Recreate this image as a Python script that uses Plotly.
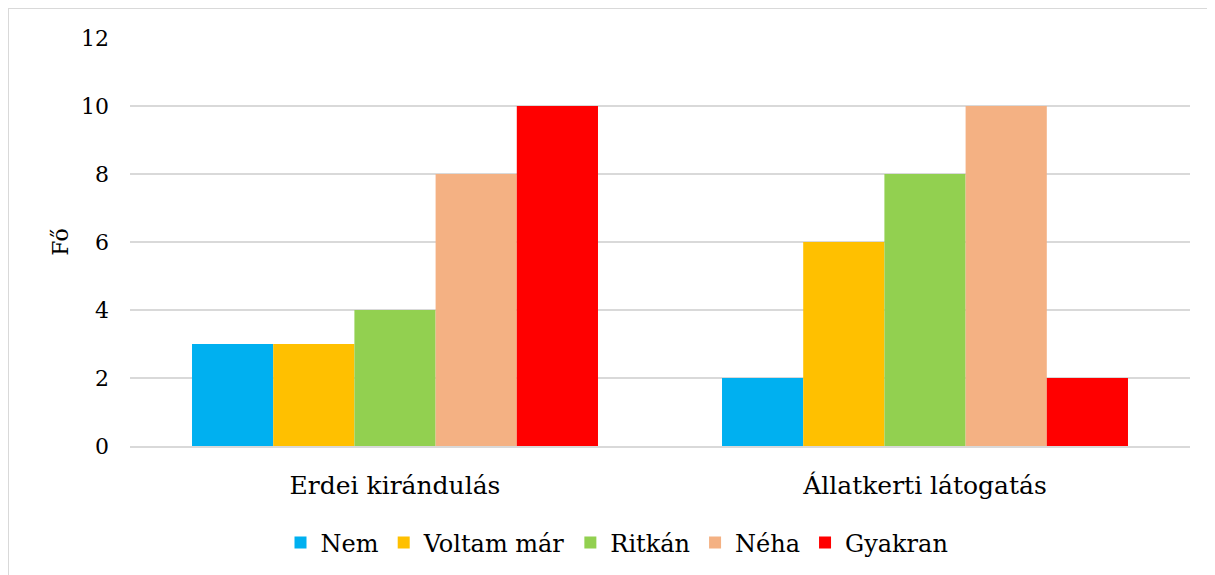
import plotly.graph_objects as go

categories = ["Erdei kirándulás", "Állatkerti látogatás"]
series_names = ["Nem", "Voltam már", "Ritkán", "Néha", "Gyakran"]
values_nem = [3, 2]
values_voltam = [3, 6]
values_ritkan = [4, 8]
values_neha = [8, 10]
values_gyakran = [10, 2]
colors = ["#00B0F0", "#FFC000", "#92D050", "#F4B183", "#FF0000"]
y_ticks = [0, 2, 4, 6, 8, 10, 12]

all_values = [values_nem, values_voltam, values_ritkan, values_neha, values_gyakran]

FONT = "DejaVu Serif"
OFF = 8  # page body margin

fig = go.Figure()
for name, vals, col in zip(series_names, all_values, colors):
    fig.add_trace(go.Bar(x=categories, y=vals, name=name, marker=dict(color=col, line=dict(width=0))))

W, H = 1215 - OFF, 575 - OFF
L, T = 130 - OFF, 38 - OFF
R = W - (1190 - OFF)
B = H - (446 - OFF)
pw, ph = W - L - R, H - T - B

def px_x(p):
    return (p - OFF - L) / pw

def px_y(p):
    return (H - B - (p - OFF)) / ph

fig.update_layout(
    width=W, height=H,
    margin=dict(l=L, r=R, t=T, b=B, autoexpand=False),
    paper_bgcolor="white", plot_bgcolor="white",
    barmode="group", bargap=0.234, bargroupgap=0,
    font=dict(family=FONT, color="black", size=22),
    showlegend=True,
    legend=dict(orientation="h", x=px_x(617), xanchor="center", y=px_y(543), yanchor="middle",
                font=dict(size=24, family=FONT, color="black"), itemwidth=30, traceorder="normal"),
    xaxis=dict(showgrid=False, showline=True, linecolor="#D9D9D9", linewidth=2, automargin=False,
               tickfont=dict(size=25, family=FONT, color="black"), ticks="", ticklabelstandoff=16),
    yaxis=dict(range=[0, 12], tickvals=y_ticks, showgrid=True, gridcolor="#D9D9D9", gridwidth=1.5,
               zeroline=False, automargin=False,
               tickfont=dict(size=22, family=FONT, color="black"), ticklabelstandoff=20,
               title=dict(text="Fő", font=dict(size=22, family=FONT, color="black"), standoff=6)),
    shapes=[dict(type="rect", xref="paper", yref="paper",
                 x0=px_x(8), x1=px_x(1260), y0=px_y(620), y1=px_y(8),
                 line=dict(color="#D9D9D9", width=2), layer="below")],
)

fig.write_html("out.html")
